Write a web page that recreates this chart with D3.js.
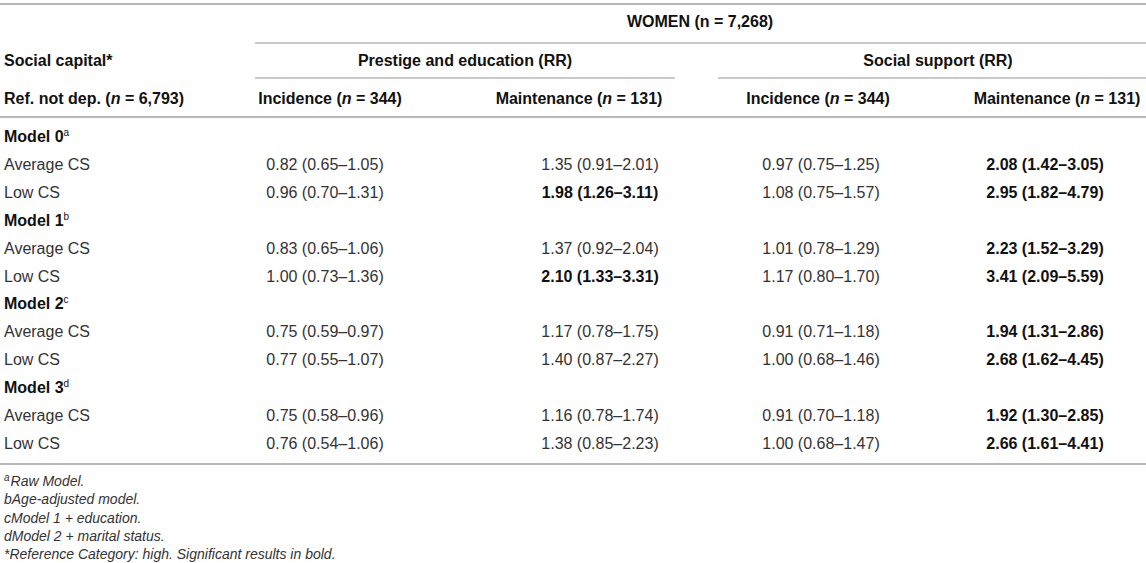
<!DOCTYPE html>
<html><head><meta charset="utf-8">
<script src="https://cdn.jsdelivr.net/npm/d3@7"></script>
<style>
html,body{margin:0;padding:0;background:#fff;}
svg text{font-family:"Liberation Sans",Arial,Helvetica,sans-serif;}
</style></head>
<body><svg id="c" width="1146" height="563"></svg>
<script>
// ---- data ----
const groupTitle = "WOMEN (n = 7,268)";
const stubHeader = "Social capital*";
const refHeader = ["Ref. not dep. (", "n", " = 6,793)"];
const groups = ["Prestige and education (RR)", "Social support (RR)"];
const subHeaders = [["Incidence (", "n", " = 344)"], ["Maintenance (", "n", " = 131)"], ["Incidence (", "n", " = 344)"], ["Maintenance (", "n", " = 131)"]];
const models = ["Model 0", "Model 1", "Model 2", "Model 3"];
const modelSup = ["a", "b", "c", "d"];
const levels = ["Average CS", "Low CS"];
const prestigeIncidence = ["0.82 (0.65–1.05)","0.96 (0.70–1.31)","0.83 (0.65–1.06)","1.00 (0.73–1.36)","0.75 (0.59–0.97)","0.77 (0.55–1.07)","0.75 (0.58–0.96)","0.76 (0.54–1.06)"];
const prestigeMaintenance = ["1.35 (0.91–2.01)","1.98 (1.26–3.11)","1.37 (0.92–2.04)","2.10 (1.33–3.31)","1.17 (0.78–1.75)","1.40 (0.87–2.27)","1.16 (0.78–1.74)","1.38 (0.85–2.23)"];
const supportIncidence = ["0.97 (0.75–1.25)","1.08 (0.75–1.57)","1.01 (0.78–1.29)","1.17 (0.80–1.70)","0.91 (0.71–1.18)","1.00 (0.68–1.46)","0.91 (0.70–1.18)","1.00 (0.68–1.47)"];
const supportMaintenance = ["2.08 (1.42–3.05)","2.95 (1.82–4.79)","2.23 (1.52–3.29)","3.41 (2.09–5.59)","1.94 (1.31–2.86)","2.68 (1.62–4.45)","1.92 (1.30–2.85)","2.66 (1.61–4.41)"];
const prestigeMaintenanceSig = [false,true,false,true,false,false,false,false];
const supportMaintenanceSig = [true,true,true,true,true,true,true,true];
const footnotes = [["a","Raw Model."],["","bAge-adjusted model."],["","cModel 1 + education."],["","dModel 2 + marital status."],["","*Reference Category: high. Significant results in bold."]];

// ---- layout ----
const svg = d3.select("#c");
const W = 1146;
const lineColor = "#b8b8b8";
const textColor = "#333";
const fs = 16;

const colHeadX = [330, 579, 818, 1057];
const colDataX = [325, 600, 821, 1045];
const groupX = [465, 938];
const groupLine = [[255, 675], [718, 1146]];

// row scale (baselines)
const y = d3.scaleLinear().domain([0, 11]).range([142, 449]);

function hline(x1, x2, yy, w) {
  svg.append("line").attr("x1", x1).attr("x2", x2).attr("y1", yy).attr("y2", yy)
    .attr("stroke", lineColor).attr("stroke-width", w);
}
function richText(parts, x, yy, anchor, bold) {
  const t = svg.append("text").attr("x", x).attr("y", yy).attr("text-anchor", anchor)
    .attr("font-size", fs).attr("font-weight", bold ? "bold" : "normal").attr("fill", bold ? "#111" : textColor);
  parts.forEach((p, i) => {
    const s = t.append("tspan").text(p);
    if (i % 2 === 1) s.attr("font-style", "italic");
  });
  return t;
}

// rules
hline(0, W, 4, 2);
hline(255, W, 43, 1.5);
groupLine.forEach(g => hline(g[0], g[1], 78, 1.5));
hline(0, W, 117, 2);
hline(0, W, 464, 2);

// header
svg.append("text").attr("x", 700).attr("y", 27).attr("text-anchor", "middle")
  .attr("font-size", fs).attr("font-weight", "bold").attr("fill", "#111").text(groupTitle);
svg.append("text").attr("x", 4).attr("y", 66).attr("font-size", fs).attr("font-weight", "bold").attr("fill", "#111").text(stubHeader);
groups.forEach((g, i) => svg.append("text").attr("x", groupX[i]).attr("y", 66).attr("text-anchor", "middle")
  .attr("font-size", fs).attr("font-weight", "bold").attr("fill", "#111").text(g));
richText(refHeader, 4, 104, "start", true);
subHeaders.forEach((h, i) => richText(h, colHeadX[i], 104, "middle", true));

// body
const cols = [prestigeIncidence, prestigeMaintenance, supportIncidence, supportMaintenance];
const sigs = [null, prestigeMaintenanceSig, null, supportMaintenanceSig];
models.forEach((m, mi) => {
  const r0 = mi * 3;
  const t = svg.append("text").attr("x", 4).attr("y", y(r0)).attr("font-size", fs)
    .attr("font-weight", "bold").attr("fill", "#111");
  t.append("tspan").text(m);
  t.append("tspan").attr("dy", -6).attr("font-size", 10).attr("font-weight", "normal").text(modelSup[mi]);
  levels.forEach((lv, li) => {
    const r = r0 + 1 + li;
    const di = mi * 2 + li;
    svg.append("text").attr("x", 4).attr("y", y(r)).attr("font-size", fs).attr("fill", textColor).text(lv);
    cols.forEach((c, ci) => {
      const b = sigs[ci] ? sigs[ci][di] : false;
      svg.append("text").attr("x", colDataX[ci]).attr("y", y(r)).attr("text-anchor", "middle")
        .attr("font-size", fs).attr("font-weight", b ? "bold" : "normal").attr("fill", b ? "#111" : textColor).text(c[di]);
    });
  });
});

// footnotes
const fy = d3.scaleLinear().domain([0, 4]).range([486, 559]);
footnotes.forEach((f, i) => {
  const t = svg.append("text").attr("x", 4).attr("y", fy(i)).attr("font-size", 14)
    .attr("font-style", "italic").attr("fill", textColor);
  if (f[0]) t.append("tspan").attr("dy", -5).attr("font-size", 10).text(f[0]);
  t.append("tspan").attr("dy", f[0] ? 5 : 0).attr("dx", f[0] ? 1 : 0).text(f[1]);
});
</script></body></html>
